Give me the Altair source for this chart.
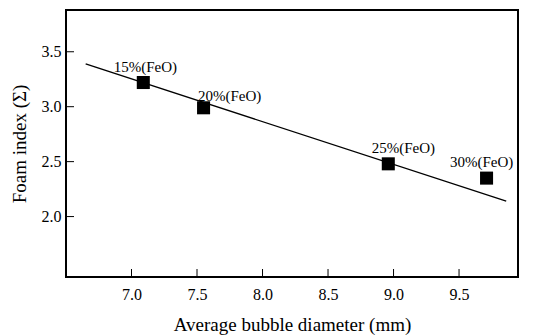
import altair as alt
import pandas as pd

# data
diam = [7.09, 7.55, 8.96, 9.71]
foam = [3.22, 2.99, 2.48, 2.35]
labels = ["15%(FeO)", "20%(FeO)", "25%(FeO)", "30%(FeO)"]
fit_x = [6.65, 9.86]
fit_y = [3.39, 2.14]
x_ticks = [7.0, 7.5, 8.0, 8.5, 9.0, 9.5]
y_ticks = [2.0, 2.5, 3.0, 3.5]

W, H = 452, 267
FONT = "Liberation Serif"

pts = pd.DataFrame({"d": diam, "f": foam, "lab": labels})
fit = pd.DataFrame({"d": fit_x, "f": fit_y})
xt = pd.DataFrame({"v": x_ticks})
yt = pd.DataFrame({"v": y_ticks})

xs = alt.Scale(domain=[6.5, 9.95], nice=False, zero=False)
ys = alt.Scale(domain=[1.45, 3.88], nice=False, zero=False)

xax = alt.Axis(values=x_ticks, format=".1f", tickSize=0, domain=False, grid=False,
               labelFont=FONT, labelFontSize=16, labelColor="black", labelPadding=9,
               title="Average bubble diameter (mm)", titleFont=FONT, titleFontSize=19,
               titleFontWeight="normal", titleColor="black", titlePadding=13)
yax = alt.Axis(values=y_ticks, format=".1f", tickSize=0, domain=False, grid=False,
               labelFont=FONT, labelFontSize=16, labelColor="black", labelPadding=5,
               title="Foam index (Σ)", titleFont=FONT, titleFontSize=19,
               titleFontWeight="normal", titleColor="black", titlePadding=12)

line = alt.Chart(fit).mark_line(color="black", strokeWidth=1.3).encode(
    x=alt.X("d:Q", scale=xs, axis=xax),
    y=alt.Y("f:Q", scale=ys, axis=yax),
)
squares = alt.Chart(pts).mark_square(color="black", size=170, opacity=1).encode(
    x=alt.X("d:Q", scale=xs), y=alt.Y("f:Q", scale=ys)
)

offsets = [(2, -16), (26, -12), (15, -16), (-5, -16)]
texts = []
for lab, (dx, dy) in zip(labels, offsets):
    texts.append(
        alt.Chart(pts).transform_filter(alt.datum.lab == lab)
        .mark_text(font=FONT, fontSize=15, color="black", dx=dx, dy=dy)
        .encode(x=alt.X("d:Q", scale=xs), y=alt.Y("f:Q", scale=ys), text="lab:N")
    )

xtick = alt.Chart(xt).mark_rule(color="black", strokeWidth=1).encode(
    x=alt.X("v:Q", scale=xs), y=alt.value(H), y2=alt.value(H - 8)
)
ytick = alt.Chart(yt).mark_rule(color="black", strokeWidth=1).encode(
    y=alt.Y("v:Q", scale=ys), x=alt.value(0), x2=alt.value(8)
)

chart = alt.layer(line, xtick, ytick, squares, *texts).properties(
    width=W, height=H,
    background="white",
    autosize=alt.AutoSizeParams(type="none"),
    padding={"left": 58, "top": 2, "right": 15, "bottom": 59},
).configure_view(stroke="black", strokeWidth=2)

chart.save("out.html", embed_options={"renderer": "svg", "actions": False})
